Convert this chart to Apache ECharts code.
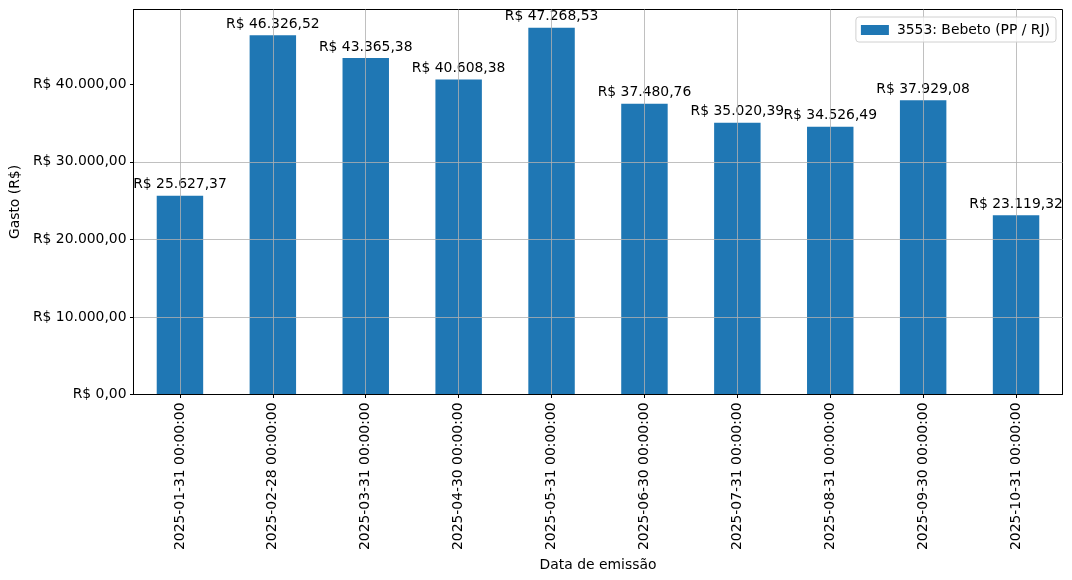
<!DOCTYPE html>
<html>
<head>
<meta charset="utf-8">
<script src="https://cdn.jsdelivr.net/npm/echarts@6/dist/echarts.min.js"></script>
<style>html,body{margin:0;padding:0;background:#fff}#c{width:1072px;height:580px}</style>
</head>
<body>
<div id="c"></div>
<script>
const categories = ['2025-01-31 00:00:00','2025-02-28 00:00:00','2025-03-31 00:00:00','2025-04-30 00:00:00','2025-05-31 00:00:00','2025-06-30 00:00:00','2025-07-31 00:00:00','2025-08-31 00:00:00','2025-09-30 00:00:00','2025-10-31 00:00:00'];
const values = [25627.37, 46326.52, 43365.38, 40608.38, 47268.53, 37480.76, 35020.39, 34526.49, 37929.08, 23119.32];
const seriesName = '3553: Bebeto (PP / RJ)';
const yTicks = [0, 10000, 20000, 30000, 40000];

function brl(v) {
  const neg = v < 0; v = Math.abs(v);
  const fixed = v.toFixed(2);
  let [ip, dp] = fixed.split('.');
  ip = ip.replace(/\B(?=(\d{3})+(?!\d))/g, '.');
  return 'R$ ' + (neg ? '-' : '') + ip + ',' + dp;
}

const FONT = 'DejaVu Sans';
const FS = 13.9;
const yMax = Math.max(...values) * 1.05;

const chart = echarts.init(document.getElementById('c'), null, {renderer: 'canvas'});
chart.setOption({
  animation: false,
  textStyle: {fontFamily: FONT},
  grid: {left: 131.5, top: 9.5, width: 931, height: 385, show: true, borderColor: '#000', borderWidth: 1, backgroundColor: 'transparent'},
  legend: {
    data: [seriesName], right: 16, top: 17, orient: 'vertical',
    itemWidth: 28, itemHeight: 10, itemGap: 8,
    padding: [6, 6, 5, 5],
    borderColor: '#d0d0d0', borderWidth: 1, borderRadius: 3,
    backgroundColor: 'rgba(255,255,255,0.8)',
    textStyle: {fontFamily: FONT, fontSize: FS, color: '#000', padding: [0, 0, 0, 3]},
    icon: 'rect'
  },
  xAxis: {
    type: 'category', data: categories, z: 3,
    name: 'Data de emissão', nameLocation: 'middle', nameGap: 160,
    nameTextStyle: {fontFamily: FONT, fontSize: FS, color: '#000'},
    axisLine: {show: true, lineStyle: {color: '#000', width: 1}},
    axisTick: {show: true, alignWithLabel: true, length: 3.5, lineStyle: {color: '#000'}},
    axisLabel: {rotate: 90, fontFamily: FONT, fontSize: FS, color: '#000', margin: 8},
    splitLine: {show: false}
  },
  yAxis: {
    type: 'value', min: 0, max: yMax, interval: 10000, z: 3,
    name: 'Gasto (R$)', nameLocation: 'middle', nameGap: 110,
    nameTextStyle: {fontFamily: FONT, fontSize: FS, color: '#000'},
    axisLine: {show: true, lineStyle: {color: '#000', width: 1}},
    axisTick: {show: true, length: 3.5, lineStyle: {color: '#000'}, customValues: yTicks},
    axisLabel: {fontFamily: FONT, fontSize: FS, color: '#000', margin: 7, customValues: yTicks,
      formatter: v => brl(v)},
    splitLine: {show: true, showMaxLine: false, showMinLine: false, lineStyle: {color: '#b0b0b0', width: 0.8}}
  },
  series: [{
    name: seriesName, type: 'bar', data: values, barWidth: '50%',
    itemStyle: {color: '#1f77b4'},
    label: {show: true, position: 'top', distance: 4, fontFamily: FONT, fontSize: FS, color: '#000', formatter: p => brl(p.value)},
    markLine: {
      silent: true, symbol: 'none', z: 3,
      label: {show: false},
      lineStyle: {color: '#b0b0b0', width: 0.8, type: 'solid'},
      data: categories.map(c => ({xAxis: c}))
    }
  }]
});
</script>
</body>
</html>
